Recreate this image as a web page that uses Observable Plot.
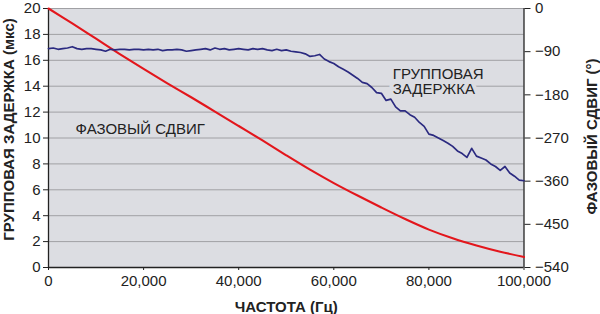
<!DOCTYPE html>
<html>
<head>
<meta charset="utf-8">
<script src="https://cdn.jsdelivr.net/npm/d3@7"></script>
<script src="https://cdn.jsdelivr.net/npm/@observablehq/plot@0.6"></script>
<style>
  html, body { margin: 0; padding: 0; background: #ffffff; }
  #chart { width: 600px; height: 314px; }
</style>
</head>
<body>
<div id="chart"></div>
<script>
// Frequency (Hz) samples for group delay, every 1 kHz
const delayFreqs = d3.range(0, 100001, 1000);
// Group delay (µs)
const groupDelay = [
  16.9, 16.95, 16.85, 16.9, 16.95, 17.05, 16.9, 16.85, 16.9, 16.9, 16.85,
  16.8, 16.7, 16.85, 16.8, 16.85, 16.85, 16.8, 16.85, 16.85, 16.8,
  16.85, 16.8, 16.85, 16.75, 16.8, 16.8, 16.85, 16.8, 16.7, 16.75,
  16.8, 16.85, 16.9, 16.8, 16.95, 16.85, 16.9, 16.8, 16.85, 16.9,
  16.85, 16.8, 16.9, 16.85, 16.9, 16.8, 16.75, 16.85, 16.75, 16.8,
  16.7, 16.65, 16.6, 16.5, 16.3, 16.35, 16.45, 16.1, 15.9, 15.75,
  15.5, 15.3, 15.1, 14.85, 14.6, 14.3, 14.2, 13.9, 13.5, 13.45,
  12.9, 13.0, 12.4, 12.1, 12.1, 11.8, 11.6, 11.2, 10.9, 10.3,
  10.2, 10.0, 9.8, 9.6, 9.35, 9.0, 8.8, 8.5, 9.2, 8.6,
  8.45, 8.3, 8.0, 7.8, 7.5, 7.8, 7.3, 7.05, 6.75, 6.7
];
// Phase shift (degrees) samples every 5 kHz
const phaseFreqs = d3.range(0, 100001, 5000);
const phaseShift = [
  0, -31, -63, -95, -126, -156, -185, -215, -245, -275,
  -306, -336, -364, -390, -415, -439, -461, -479, -494, -507, -518
];
// Tick labels
const xTicks = [0, 20000, 40000, 60000, 80000, 100000];
const yTicks = [0, 2, 4, 6, 8, 10, 12, 14, 16, 18, 20];
const phaseTicks = [0, -90, -180, -270, -360, -450, -540];
// Texts
const xTitle = "ЧАСТОТА (Гц)";
const yTitle = "ГРУППОВАЯ ЗАДЕРЖКА (мкс)";
const y2Title = "ФАЗОВЫЙ СДВИГ (°)";
const phaseLabel = "ФАЗОВЫЙ СДВИГ";
const delayLabel = "ГРУППОВАЯ\nЗАДЕРЖКА";

// map degrees (0..-540) onto the left scale (20..0)
const toLeft = p => 20 + p / 27;

const delayData = delayFreqs.map((f, i) => ({f, v: groupDelay[i]}));
const phaseData = phaseFreqs.map((f, i) => ({f, p: phaseShift[i]}));

const font = "'Liberation Sans', Arial, Helvetica, sans-serif";
const bg = "#dcdde2";

const chart = Plot.plot({
  width: 600,
  height: 314,
  marginLeft: 48,
  marginRight: 76.5,
  marginTop: 8,
  marginBottom: 47,
  style: {fontFamily: font, background: "#ffffff", color: "#222"},
  x: {domain: [0, 100000]},
  y: {domain: [0, 20]},
  marks: [
    Plot.frame({fill: bg, stroke: null}),
    Plot.gridY(yTicks.filter(d => d > 0), {stroke: "#a0a0a4", strokeOpacity: 1, strokeWidth: 1}),
    Plot.axisY({ticks: yTicks, tickSize: 5, tickPadding: 3, fontSize: 15, label: null, stroke: "#222", fill: "#222"}),
    Plot.axisY({anchor: "right", ticks: phaseTicks.map(toLeft), tickSize: 6, tickPadding: 5,
      tickFormat: (d, i) => (phaseTicks[i] < 0 ? "\u2212" + Math.abs(phaseTicks[i]) : String(phaseTicks[i])),
      fontSize: 15, label: null, stroke: "#222", fill: "#222"}),
    Plot.axisX({ticks: xTicks, tickSize: 3, tickPadding: 5, tickFormat: d3.format(","), fontSize: 15, label: null, stroke: "#222", fill: "#222"}),
    Plot.ruleY([0], {stroke: "#222", strokeWidth: 1.3}),
    Plot.ruleX([0, 100000], {stroke: "#222", strokeWidth: 1.3}),
    Plot.text([delayLabel], {x: 72400, y: 15.42, textAnchor: "start", lineAnchor: "top", lineHeight: 1.02,
      fontSize: 15, fill: "#222", stroke: bg, strokeWidth: 8, text: d => d}),
    Plot.text([phaseLabel], {x: 5700, y: 10.3, textAnchor: "start", lineAnchor: "bottom",
      fontSize: 15, fill: "#222", text: d => d}),
    Plot.line(phaseData, {x: "f", y: d => toLeft(d.p), stroke: "#e3161c", strokeWidth: 2.1, curve: "catmull-rom"}),
    Plot.line(delayData, {x: "f", y: "v", stroke: "#2b2a80", strokeWidth: 1.7}),
    Plot.text([yTitle], {frameAnchor: "left", rotate: -90, dx: -35, dy: -8.5, textAnchor: "middle", lineAnchor: "bottom",
      fontSize: 15, fontWeight: "bold", fill: "#222", text: d => d}),
    Plot.text([y2Title], {frameAnchor: "right", rotate: -90, dx: 73, dy: -1.5, textAnchor: "middle", lineAnchor: "bottom",
      fontSize: 15, fontWeight: "bold", fill: "#222", text: d => d}),
    Plot.text([xTitle], {frameAnchor: "bottom", dy: 44, textAnchor: "middle", lineAnchor: "bottom",
      fontSize: 15, fontWeight: "bold", fill: "#222", text: d => d})
  ]
});
document.getElementById("chart").appendChild(chart);
</script>
</body>
</html>
